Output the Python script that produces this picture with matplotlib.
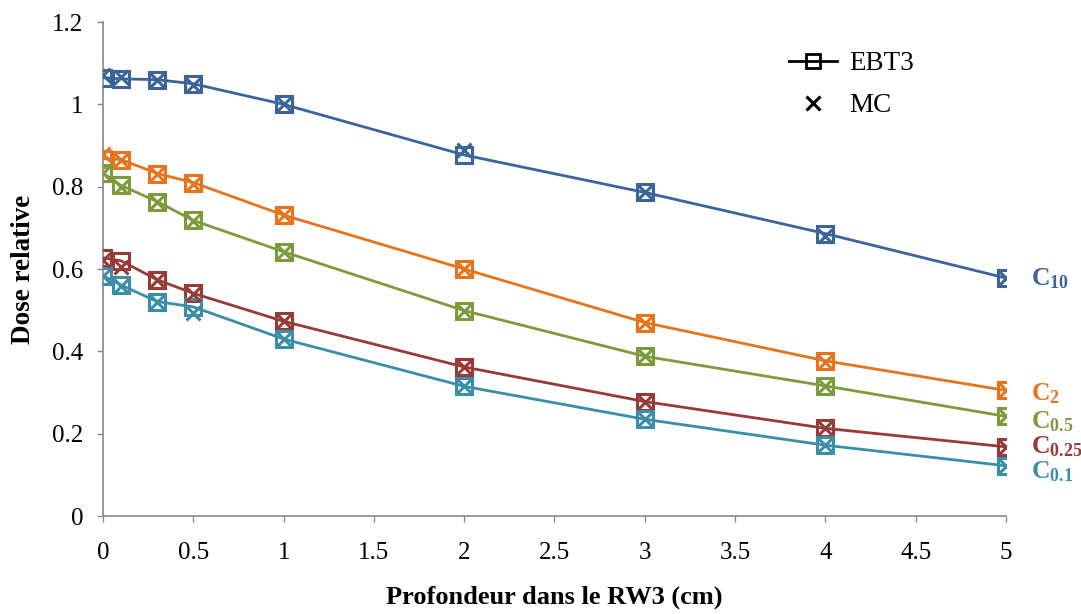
import matplotlib
matplotlib.use("Agg")
import matplotlib.pyplot as plt
from matplotlib.lines import Line2D

plt.rcParams['font.family'] = ['Liberation Serif', 'DejaVu Serif']
plt.rcParams['mathtext.fontset'] = 'custom'
plt.rcParams['mathtext.rm'] = 'Liberation Serif'
plt.rcParams['mathtext.bf'] = 'Liberation Serif:bold'
plt.rcParams['mathtext.it'] = 'Liberation Serif:italic'

depth = [0, 0.1, 0.3, 0.5, 1, 2, 3, 4, 5]

series_names = ['C10', 'C2', 'C0.5', 'C0.25', 'C0.1']
label_tex = [r'$\mathbf{C}_{\mathbf{10}}$', r'$\mathbf{C}_{\mathbf{2}}$', r'$\mathbf{C}_{\mathbf{0.5}}$',
             r'$\mathbf{C}_{\mathbf{0.25}}$', r'$\mathbf{C}_{\mathbf{0.1}}$']
colors = ['#3A649A', '#E8731A', '#7E9B3C', '#983A38', '#3A8EAA']

ebt3_c10 = [1.065, 1.062, 1.060, 1.050, 1.000, 0.877, 0.786, 0.686, 0.578]
ebt3_c2 = [0.868, 0.866, 0.832, 0.810, 0.731, 0.600, 0.470, 0.377, 0.305]
ebt3_c05 = [0.833, 0.803, 0.764, 0.718, 0.642, 0.499, 0.388, 0.316, 0.242]
ebt3_c025 = [0.627, 0.620, 0.574, 0.541, 0.473, 0.362, 0.278, 0.213, 0.168]
ebt3_c01 = [0.584, 0.561, 0.521, 0.508, 0.430, 0.315, 0.235, 0.172, 0.122]

mc_c10 = [1.072, 1.066, 1.060, 1.046, 1.000, 0.890, 0.786, 0.680, 0.578]
mc_c2 = [0.880, 0.866, 0.832, 0.806, 0.731, 0.600, 0.470, 0.375, 0.305]
mc_c05 = [0.833, 0.800, 0.764, 0.716, 0.642, 0.499, 0.388, 0.316, 0.242]
mc_c025 = [0.622, 0.606, 0.574, 0.540, 0.473, 0.362, 0.278, 0.213, 0.168]
mc_c01 = [0.584, 0.558, 0.521, 0.492, 0.430, 0.315, 0.235, 0.172, 0.122]

ebt3 = [ebt3_c10, ebt3_c2, ebt3_c05, ebt3_c025, ebt3_c01]
mc = [mc_c10, mc_c2, mc_c05, mc_c025, mc_c01]
label_y = [0.561, 0.282, 0.214, 0.151, 0.092]

xticks = [0, 0.5, 1, 1.5, 2, 2.5, 3, 3.5, 4, 4.5, 5]
xtick_labels = ['0', '0.5', '1', '1.5', '2', '2.5', '3', '3.5', '4', '4.5', '5']
yticks = [0, 0.2, 0.4, 0.6, 0.8, 1.0, 1.2]
ytick_labels = ['0', '0.2', '0.4', '0.6', '0.8', '1', '1.2']

fig = plt.figure(figsize=(10.81, 6.14), dpi=100)
ax = fig.add_axes([0.0953, 0.1596, 0.8353, 0.8045])

for e, m, c in zip(ebt3, mc, colors):
    ax.plot(depth, e, color=c, lw=2.0, marker='s', ms=11, mfc='none', mec=c, mew=2.2, zorder=3)
    ax.plot(depth, m, color=c, lw=0, marker='x', ms=10, mew=2.2, zorder=4)

for lt, ly, c in zip(label_tex, label_y, colors):
    ax.text(5.138, ly, lt, color=c, fontsize=18.5, ha='left', va='baseline', clip_on=False)

ax.set_xlim(0, 5)
ax.set_ylim(0, 1.2)
ax.set_xticks(xticks)
ax.set_xticklabels(xtick_labels)
ax.set_yticks(yticks)
ax.set_yticklabels(ytick_labels)
ax.tick_params(axis='both', labelsize=18, color='#888888', length=4, width=1, direction='out')
ax.tick_params(axis='x', pad=15)
ax.tick_params(axis='y', pad=10)
for s in ['top', 'right']:
    ax.spines[s].set_visible(False)
for s in ['left', 'bottom']:
    ax.spines[s].set_color('#888888')
    ax.spines[s].set_linewidth(1.2)

ax.set_xlabel('Profondeur dans le RW3 (cm)', fontsize=19, fontweight='bold', labelpad=15)
ax.set_ylabel('Dose relative', fontsize=19.5, fontweight='bold', labelpad=12)

handles = [Line2D([], [], color='black', lw=2, marker='s', ms=10, mfc='none', mec='black', mew=2),
           Line2D([], [], color='black', lw=0, marker='x', ms=10, mew=2.2)]
ax.legend(handles, ['EBT3', 'MC'], loc='upper left', bbox_to_anchor=(0.733, 0.99), frameon=False,
          fontsize=19.5, handlelength=1.75, handletextpad=0.45, labelspacing=0.62)

fig.savefig('out.png', dpi=100)
